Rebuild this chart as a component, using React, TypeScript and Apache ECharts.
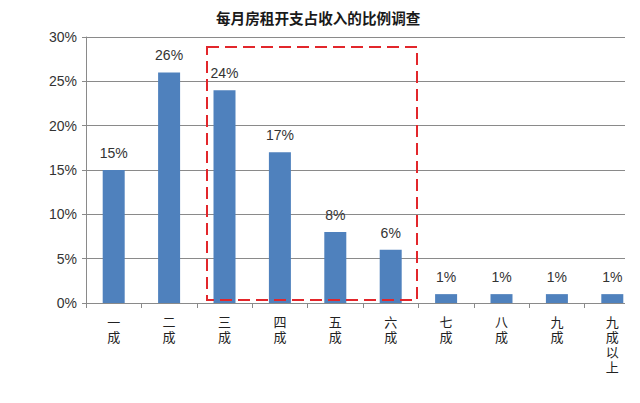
import React, { useEffect, useRef } from "react";
import * as echarts from "echarts";

const categories = ["一成", "二成", "三成", "四成", "五成", "六成", "七成", "八成", "九成", "九成以上"];
const values = [15, 26, 24, 17, 8, 6, 1, 1, 1, 1];
const yTicks = { min: 0, max: 30, interval: 5 };
const title = "每月房租开支占收入的比例调查";

export default function App() {
  const ref = useRef<HTMLDivElement>(null);
  useEffect(() => {
    if (!ref.current) return;
    const chart = echarts.init(ref.current, null, { renderer: "svg" });
    chart.setOption({
      animation: false,
      backgroundColor: "#ffffff",
      title: {
        text: title,
        left: 211,
        top: 5,
        textStyle: {
          fontFamily: "'Noto Sans CJK SC', sans-serif",
          fontSize: 14.6,
          fontWeight: "bold",
          color: "#1a1a1a",
        },
      },
      grid: { left: 86, right: 0, top: 37, bottom: 100, containLabel: false },
      xAxis: {
        type: "category",
        data: categories,
        axisLine: { lineStyle: { color: "#8a8a8a", width: 1 } },
        axisTick: { show: true, length: 5, alignWithLabel: false, lineStyle: { color: "#8a8a8a" } },
        axisLabel: {
          interval: 0,
          margin: 12,
          fontFamily: "'Liberation Sans', 'Noto Sans CJK SC', sans-serif",
          fontSize: 13,
          lineHeight: 15,
          color: "#222",
          formatter: (v: string) => v.split("").join("\n"),
        },
      },
      yAxis: {
        type: "value",
        min: yTicks.min,
        max: yTicks.max,
        interval: yTicks.interval,
        axisLine: { show: true, lineStyle: { color: "#8a8a8a", width: 1 } },
        axisTick: { show: true, length: 4, lineStyle: { color: "#8a8a8a" } },
        splitLine: { lineStyle: { color: "#8a8a8a", width: 1 } },
        axisLabel: {
          margin: 9,
          formatter: "{value}%",
          fontFamily: "'Liberation Sans', Arial, sans-serif",
          fontSize: 14,
          color: "#333",
        },
      },
      series: [
        {
          type: "bar",
          data: values,
          barWidth: 22,
          itemStyle: { color: "#4f81bd" },
          label: {
            show: true,
            position: "top",
            distance: 10,
            formatter: "{c}%",
            fontFamily: "'Liberation Sans', Arial, sans-serif",
            fontSize: 14,
            color: "#333",
          },
        },
      ],
      graphic: [
        {
          type: "rect",
          shape: { x: 625, y: 30, width: 15, height: 285 },
          style: { fill: "#ffffff" },
          z: 90,
        },
        {
          type: "rect",
          shape: { x: 207, y: 47, width: 210, height: 253 },
          style: { fill: "none", stroke: "#e2262b", lineWidth: 2, lineDash: [12, 6] },
          z: 100,
        },
      ],
    });
    return () => chart.dispose();
  }, []);
  return <div ref={ref} style={{ width: 640, height: 403, margin: -8 }} />;
}
